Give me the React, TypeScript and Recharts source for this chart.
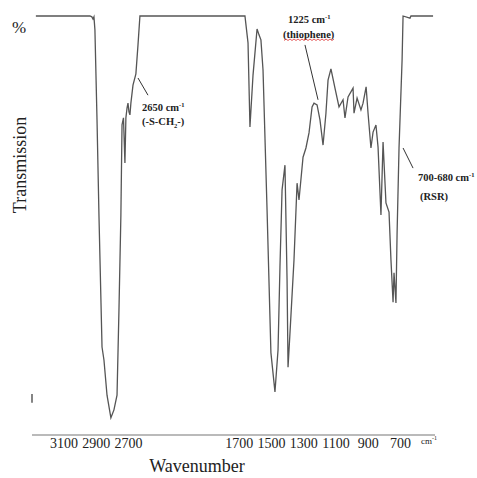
import React from 'react';
import { LineChart, Line, XAxis, YAxis, ReferenceLine } from 'recharts';

// High-wavenumber segment (left of the axis break)
const wavenumbersHigh = [3274, 2939, 2927, 2920, 2914, 2908, 2895, 2883, 2864, 2852, 2833, 2809, 2790, 2771, 2759, 2747, 2740, 2731, 2722, 2716, 2709, 2703, 2697, 2691, 2685, 2672, 2654, 2641, 2629];
const transmissionHigh = [100, 100, 99.8, 99.3, 99.8, 96.7, 75.2, 52.5, 21.0, 17.9, 9.5, 4.1, 6.0, 9.5, 29.8, 52.5, 74.0, 75.7, 64.9, 75.7, 78.0, 79.2, 77.1, 76.4, 79.2, 83.5, 86.2, 93.1, 100];

// Fingerprint segment (right of the axis break)
const wavenumbersLow = [1664, 1645, 1633, 1614, 1589, 1577, 1565, 1552, 1527, 1503, 1478, 1459, 1447, 1434, 1416, 1403, 1397, 1385, 1360, 1341, 1329, 1304, 1286, 1267, 1248, 1236, 1217, 1199, 1180, 1162, 1149, 1131, 1106, 1081, 1056, 1044, 1025, 994, 988, 969, 945, 932, 913, 901, 883, 870, 852, 839, 821, 808, 790, 771, 759, 746, 740, 728, 721, 709, 690, 684, 641, 635, 498];
const transmissionLow = [100, 93.6, 73.5, 85.9, 96.9, 95.5, 94.3, 87.1, 53.7, 19.6, 10.3, 20.3, 40.1, 58.5, 64.4, 37.0, 16.2, 24.3, 41.8, 60.1, 56.1, 66.3, 68.5, 72.1, 78.3, 79.2, 78.8, 75.2, 69.2, 76.8, 84.7, 87.4, 82.8, 78.3, 80.0, 75.7, 80.7, 82.8, 76.8, 80.4, 77.6, 79.2, 83.1, 76.8, 68.5, 72.3, 74.0, 68.7, 52.5, 69.9, 55.4, 53.2, 41.8, 31.7, 38.7, 31.5, 48.2, 68.5, 89.5, 100, 99.5, 100, 100];

const tickWavenumbers = [3100, 2900, 2700, 1700, 1500, 1300, 1100, 900, 700];

// axis break: wavenumbers above the break are shifted left by BREAK_GAP
const BREAK_AT = 2157;
const BREAK_GAP = 314;
const pos = (wn: number) => (wn > BREAK_AT ? wn - BREAK_GAP : wn);

const data = [
  ...wavenumbersHigh.map((wn, i) => ({ p: pos(wn), t: transmissionHigh[i] })),
  ...wavenumbersLow.map((wn, i) => ({ p: pos(wn), t: transmissionLow[i] })),
];

const SERIF = '"Liberation Serif", "Times New Roman", Times, serif';
const LEADER = '#333';

export default function App() {
  return (
    <div style={{ position: 'absolute', left: 0, top: 0, width: 477, height: 478, background: '#fff' }}>
      <LineChart width={477} height={478} data={data} margin={{ top: 16, right: 42, left: 32, bottom: 0 }}>
        <XAxis
          type="number"
          dataKey="p"
          domain={[486, 2984]}
          reversed
          allowDataOverflow
          ticks={tickWavenumbers.map(pos)}
          interval={0}
          tickFormatter={(v: number) => {
            const idx = tickWavenumbers.findIndex((w) => pos(w) === v);
            return idx >= 0 ? String(tickWavenumbers[idx]) : '';
          }}
          axisLine={{ stroke: '#777', strokeWidth: 1.2 }}
          tickLine={false}
          tickSize={0}
          tickMargin={3}
          height={43}
          tick={{ fontFamily: SERIF, fontSize: 14, fill: '#222' }}
        />
        <YAxis hide type="number" domain={[0, 100]} />
        <Line dataKey="t" type="linear" stroke="#555" strokeWidth={1.3} dot={false} isAnimationActive={false} />
        <ReferenceLine segment={[{ x: 2984, y: 7.7 }, { x: 2984, y: 9.8 }]} stroke="#333" strokeWidth={1.2} />
        <ReferenceLine segment={[{ x: pos(2641), y: 85.2 }, { x: pos(2579), y: 81.1 }]} stroke={LEADER} strokeWidth={1} />
        <ReferenceLine segment={[{ x: pos(1292), y: 93.1 }, { x: pos(1211), y: 80.0 }]} stroke={LEADER} strokeWidth={1} />
        <ReferenceLine segment={[{ x: pos(684), y: 68.5 }, { x: pos(622), y: 63.7 }]} stroke={LEADER} strokeWidth={1} />
      </LineChart>
      <svg width={477} height={478} style={{ position: 'absolute', left: 0, top: 0, pointerEvents: 'none' }}>
        <g fontFamily={SERIF} fill="#222">
          <text x={12} y={33} fontSize={17}>%</text>
          <text x={20} y={165} fontSize={18} textAnchor="middle" dominantBaseline="central" transform="rotate(-90 20 165)">Transmission</text>
          <text x={197} y={472} fontSize={18} textAnchor="middle">Wavenumber</text>
          <text x={421} y={444} fontSize={9}>cm<tspan fontSize={6} dy={-4}>-1</tspan></text>

          <text x={142} y={111} fontSize={10.5} fontWeight="bold">2650 cm<tspan fontSize={6.5} dy={-4}>-1</tspan></text>
          <text x={142} y={125} fontSize={10.5} fontWeight="bold">(-S-CH<tspan fontSize={6.5} dy={3}>2</tspan><tspan dy={-3}>-)</tspan></text>

          <text x={288} y={23} fontSize={10.5} fontWeight="bold">1225 cm<tspan fontSize={6.5} dy={-4}>-1</tspan></text>
          <text x={283} y={38} fontSize={10.5} fontWeight="bold">(thiophene)</text>

          <text x={418} y={181} fontSize={10.5} fontWeight="bold">700-680 cm<tspan fontSize={6.5} dy={-4}>-1</tspan></text>
          <text x={420} y={200} fontSize={10.5} fontWeight="bold">(RSR)</text>
        </g>
        <path
          d="M284 40.5 l2 -1.5 l2 1.5 l2 -1.5 l2 1.5 l2 -1.5 l2 1.5 l2 -1.5 l2 1.5 l2 -1.5 l2 1.5 l2 -1.5 l2 1.5 l2 -1.5 l2 1.5 l2 -1.5 l2 1.5 l2 -1.5 l2 1.5 l2 -1.5 l2 1.5 l2 -1.5 l2 1.5 l2 -1.5 l2 1.5 l2 -1.5"
          fill="none"
          stroke="#d33"
          strokeWidth={0.8}
        />
      </svg>
    </div>
  );
}
